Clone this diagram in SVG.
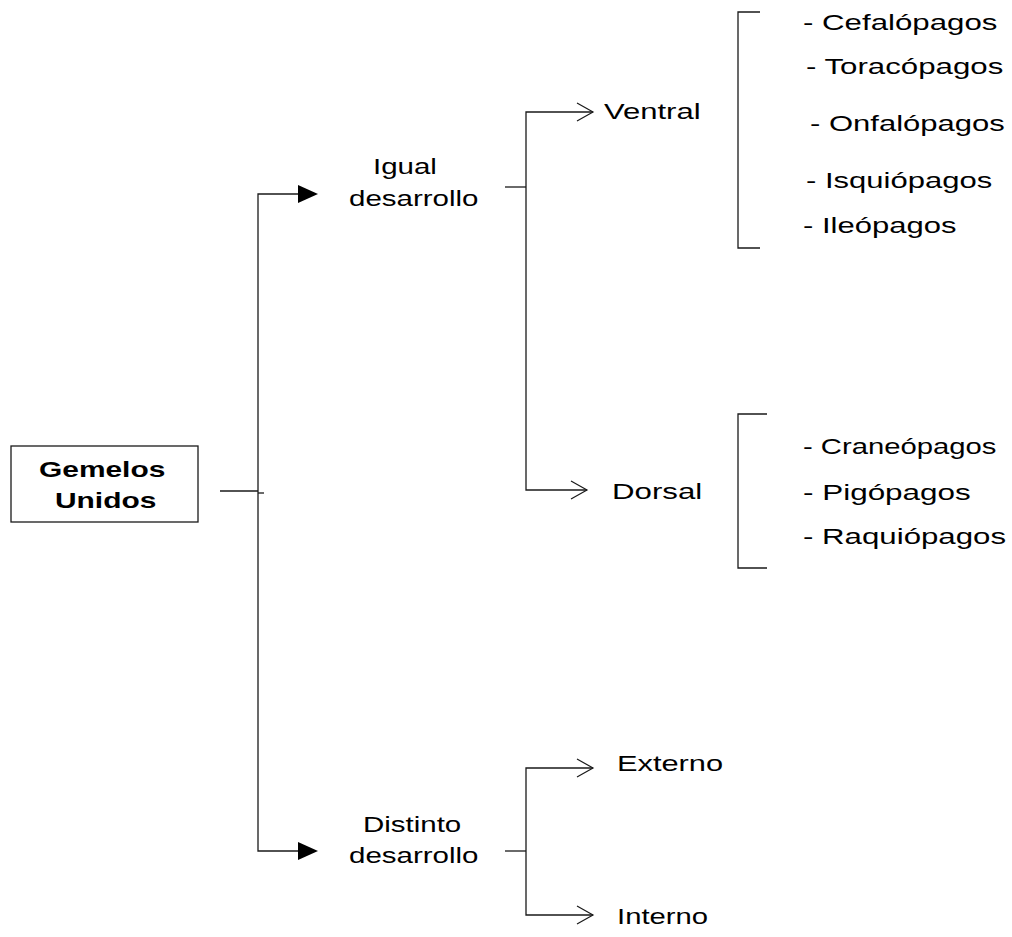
<svg xmlns="http://www.w3.org/2000/svg" width="1012" height="937" viewBox="0 0 1012 937">
  <defs>
    <style>
      text { font-family: "Liberation Sans", Arial, sans-serif; font-size: 22px; fill: #000; }
      .bold { font-weight: bold; }
      .ln { fill: none; stroke: #1a1a1a; stroke-width: 1.3; }
      .open { fill: none; stroke: #1a1a1a; stroke-width: 1.2; }
      .solid { fill: #000; stroke: none; }
    </style>
  </defs>
  <rect width="1012" height="937" fill="#fff"/>

  <!-- labels use wide glyphs: each is placed by translate and stretched horizontally -->

  <!-- root node -->
  <g id="gemelos-unidos">
    <rect x="11" y="446" width="187" height="76" class="ln"/>
    <text class="bold" transform="translate(39 477) scale(1.36 1)">Gemelos</text>
    <text class="bold" transform="translate(55 508) scale(1.36 1)">Unidos</text>
  </g>

  <g id="igual-desarrollo">
    <text transform="translate(373 174) scale(1.34 1)">Igual</text>
    <text transform="translate(349 206) scale(1.34 1)">desarrollo</text>
  </g>

  <g id="distinto-desarrollo">
    <text transform="translate(363 832) scale(1.34 1)">Distinto</text>
    <text transform="translate(349 863) scale(1.34 1)">desarrollo</text>
  </g>

  <g id="ventral">
    <text transform="translate(604 119) scale(1.41 1)">Ventral</text>
  </g>

  <g id="dorsal">
    <text transform="translate(612 499) scale(1.42 1)">Dorsal</text>
  </g>

  <g id="externo">
    <text transform="translate(617 771) scale(1.4 1)">Externo</text>
  </g>

  <g id="interno">
    <text transform="translate(617 924) scale(1.33 1)">Interno</text>
  </g>

  <!-- ventral sub-types -->
  <g id="ventral-tipos">
    <path class="ln" d="M760 12 H738 V248 H760"/>
    <text transform="translate(803 30) scale(1.42 1)">- Cefalópagos</text>
    <text transform="translate(806 74) scale(1.42 1)">- Toracópagos</text>
    <text transform="translate(810 131) scale(1.41 1)">- Onfalópagos</text>
    <text transform="translate(806 188) scale(1.41 1)">- Isquiópagos</text>
    <text transform="translate(803 233) scale(1.41 1)">- Ileópagos</text>
  </g>

  <!-- dorsal sub-types -->
  <g id="dorsal-tipos">
    <path class="ln" d="M767 414 H738 V568 H767"/>
    <text transform="translate(803 454) scale(1.33 1)">- Craneópagos</text>
    <text transform="translate(803 500) scale(1.43 1)">- Pigópagos</text>
    <text transform="translate(803 544) scale(1.42 1)">- Raquiópagos</text>
  </g>

  <!-- connectors -->
  <g id="connectors">
    <!-- root to first split -->
    <path class="ln" d="M220 491 H258"/>
    <path class="ln" d="M258 493 H264"/>
    <path class="ln" d="M300 194 H258 V851 H300"/>
    <polygon class="solid" points="298,185 318,194 298,203"/>
    <polygon class="solid" points="298,842 318,851 298,860"/>

    <!-- igual desarrollo split -->
    <path class="ln" d="M505 187 H526"/>
    <path class="ln" d="M593 112 H526 V490 H587"/>
    <path class="open" d="M577 103 L593 112 L577 121"/>
    <path class="open" d="M571 481 L587 490 L571 499"/>

    <!-- distinto desarrollo split -->
    <path class="ln" d="M505 851 H526"/>
    <path class="ln" d="M593 768 H526 V915 H593"/>
    <path class="open" d="M577 759 L593 768 L577 777"/>
    <path class="open" d="M577 906 L593 915 L577 924"/>
  </g>
</svg>
